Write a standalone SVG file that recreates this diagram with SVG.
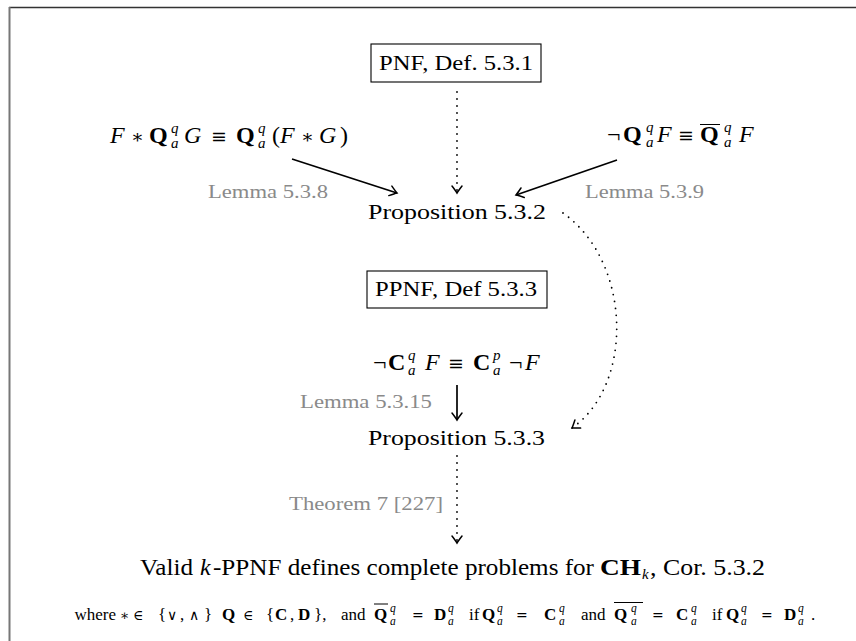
<svg xmlns="http://www.w3.org/2000/svg" width="856" height="641" viewBox="0 0 856 641">
<style>
text{font-family:"Liberation Serif","Times New Roman",serif;fill:#000}
.n{font-size:21.5px}
.n2{font-size:23px}
.m{font-size:24px}
.s{font-size:15px;font-style:italic}
.i{font-style:italic}
.b{font-weight:bold}
.y{font-family:"DejaVu Serif",serif;font-size:19px}
.ys{font-family:"DejaVu Serif",serif;font-size:14px}
.g{font-size:18px;fill:#8a8a8a}
.f{font-size:17px}
.fs{font-size:11.5px;font-style:italic}
.box{fill:none;stroke:#000;stroke-width:1.1}
.solid{fill:none;stroke:#000;stroke-width:1.7}
.dot{fill:none;stroke:#000;stroke-width:1.8;stroke-linecap:round;stroke-dasharray:0 7}
.bar{stroke:#000;stroke-width:1}
</style>
<defs>
<marker id="ah" markerUnits="userSpaceOnUse" viewBox="-10 -7 12 14" refX="0" refY="0" markerWidth="12" markerHeight="14" orient="auto">
<path d="M-7,-5 Q-2,-1.2 0,0 Q-2,1.2 -7,5" fill="none" stroke="#000" stroke-width="1.5" stroke-linecap="round"/>
</marker>
</defs>
<line x1="9" y1="7.5" x2="856" y2="7.5" stroke="#333" stroke-width="1.4"/>
<line x1="9.5" y1="7" x2="9.5" y2="641" stroke="#777" stroke-width="2"/>

<g id="connectors">
<line class="solid" x1="292" y1="159" x2="397" y2="193" marker-end="url(#ah)"/>
<line class="solid" x1="617" y1="160" x2="516" y2="195" marker-end="url(#ah)"/>
<line class="dot" x1="457" y1="92" x2="457" y2="193" marker-end="url(#ah)"/>
<path class="dot" d="M563,213 C632,262 634,385 572,428" marker-end="url(#ah)"/>
<line class="solid" x1="457" y1="385" x2="457" y2="420" marker-end="url(#ah)"/>
<line class="dot" x1="457" y1="456" x2="457" y2="543" marker-end="url(#ah)"/>
</g>

<g id="pnf">
<rect class="box" x="371" y="44" width="170" height="38"/>
<text class="n" x="379" y="70" textLength="154" lengthAdjust="spacingAndGlyphs">PNF, Def. 5.3.1</text>
</g>

<g id="lemma538-formula">
<text class="m" y="143"><tspan class="i" x="110">F</tspan><tspan class="y" x="131">∗</tspan><tspan class="b" x="149">Q</tspan><tspan class="s" x="171" y="133">q</tspan><tspan class="s" x="171" y="148">a</tspan><tspan class="i" x="184" y="143">G</tspan><tspan class="y" x="211">≡</tspan><tspan class="b" x="236">Q</tspan><tspan class="s" x="258" y="133">q</tspan><tspan class="s" x="258" y="148">a</tspan><tspan x="272" y="143">(</tspan><tspan class="i" x="280">F</tspan><tspan class="y" x="301">∗</tspan><tspan class="i" x="319">G</tspan><tspan x="340">)</tspan></text>
<text class="g" x="208" y="198" textLength="120" lengthAdjust="spacingAndGlyphs">Lemma 5.3.8</text>
</g>

<g id="lemma539-formula">
<text class="m" y="142"><tspan x="607">¬</tspan><tspan class="b" x="623">Q</tspan><tspan class="s" x="646" y="132">q</tspan><tspan class="s" x="646" y="147">a</tspan><tspan class="i" x="657" y="142">F</tspan><tspan class="y" x="678">≡</tspan><tspan class="b" x="700">Q</tspan><tspan class="s" x="724" y="132">q</tspan><tspan class="s" x="724" y="147">a</tspan><tspan class="i" x="739" y="142">F</tspan></text>
<line class="bar" x1="700" y1="124.5" x2="720" y2="124.5"/>
<text class="g" x="585" y="198" textLength="119" lengthAdjust="spacingAndGlyphs">Lemma 5.3.9</text>
</g>

<g id="prop532">
<text class="n" x="368" y="219" textLength="178" lengthAdjust="spacingAndGlyphs">Proposition 5.3.2</text>
</g>

<g id="ppnf">
<rect class="box" x="367" y="271" width="180" height="37"/>
<text class="n" x="375" y="296" textLength="162" lengthAdjust="spacingAndGlyphs">PPNF, Def 5.3.3</text>
</g>

<g id="lemma5315-formula">
<text class="m" y="370"><tspan x="373">¬</tspan><tspan class="b" x="388">C</tspan><tspan class="s" x="408" y="360">q</tspan><tspan class="s" x="408" y="375">a</tspan><tspan class="i" x="425" y="370">F</tspan><tspan class="y" x="448">≡</tspan><tspan class="b" x="473">C</tspan><tspan class="s" x="493" y="360">p</tspan><tspan class="s" x="493" y="375">a</tspan><tspan x="509" y="370">¬</tspan><tspan class="i" x="525">F</tspan></text>
<text class="g" x="300" y="408" textLength="132" lengthAdjust="spacingAndGlyphs">Lemma 5.3.15</text>
</g>

<g id="prop533">
<text class="n" x="368" y="445" textLength="177" lengthAdjust="spacingAndGlyphs">Proposition 5.3.3</text>
<text class="g" x="289" y="510" textLength="154" lengthAdjust="spacingAndGlyphs">Theorem 7 [227]</text>
</g>

<g id="cor532">
<text class="n2" x="140" y="575" textLength="53" lengthAdjust="spacingAndGlyphs">Valid</text>
<text class="m i" x="200" y="575">k</text>
<text class="n2" x="213" y="575" textLength="381" lengthAdjust="spacingAndGlyphs">-PPNF defines complete problems for</text>
<text class="m b" x="600" y="575" textLength="41" lengthAdjust="spacingAndGlyphs">CH</text>
<text class="s" x="642" y="579">k</text>
<text class="n2" x="650" y="575" textLength="115" lengthAdjust="spacingAndGlyphs">, Cor. 5.3.2</text>
</g>

<g id="footnote">
<text class="f" y="620"><tspan x="116" text-anchor="end">where</tspan><tspan class="ys" x="120">∗</tspan><tspan class="ys" x="133">∈</tspan><tspan x="158">{</tspan><tspan class="ys" x="167">∨</tspan><tspan x="180">,</tspan><tspan class="ys" x="189">∧</tspan><tspan x="204">}</tspan><tspan class="b" x="222">Q</tspan><tspan class="ys" x="243">∈</tspan><tspan x="266">{</tspan><tspan class="b" x="275">C</tspan><tspan x="290">,</tspan><tspan class="b" x="298">D</tspan><tspan x="314">},</tspan><tspan x="341">and</tspan><tspan class="b" x="374">Q</tspan><tspan class="fs" x="390" y="612">q</tspan><tspan class="fs" x="390" y="625">a</tspan><tspan class="ys" x="412" y="620">=</tspan><tspan class="b" x="434">D</tspan><tspan class="fs" x="448" y="612">q</tspan><tspan class="fs" x="448" y="625">a</tspan><tspan x="469" y="620">if</tspan><tspan class="b" x="482">Q</tspan><tspan class="fs" x="497" y="612">q</tspan><tspan class="fs" x="497" y="625">a</tspan><tspan class="ys" x="516" y="620">=</tspan><tspan class="b" x="544">C</tspan><tspan class="fs" x="559" y="612">q</tspan><tspan class="fs" x="559" y="625">a</tspan><tspan x="581" y="620">and</tspan><tspan class="b" x="614">Q</tspan><tspan class="fs" x="631" y="612">q</tspan><tspan class="fs" x="631" y="625">a</tspan><tspan class="ys" x="652" y="620">=</tspan><tspan class="b" x="676">C</tspan><tspan class="fs" x="691" y="612">q</tspan><tspan class="fs" x="691" y="625">a</tspan><tspan x="712" y="620">if</tspan><tspan class="b" x="726">Q</tspan><tspan class="fs" x="741" y="612">q</tspan><tspan class="fs" x="741" y="625">a</tspan><tspan class="ys" x="761" y="620">=</tspan><tspan class="b" x="784">D</tspan><tspan class="fs" x="798" y="612">q</tspan><tspan class="fs" x="798" y="625">a</tspan><tspan x="811" y="620">.</tspan></text>
<line class="bar" x1="374" y1="604" x2="388" y2="604"/>
<line class="bar" x1="614" y1="602.5" x2="643" y2="602.5"/>
</g>
</svg>
